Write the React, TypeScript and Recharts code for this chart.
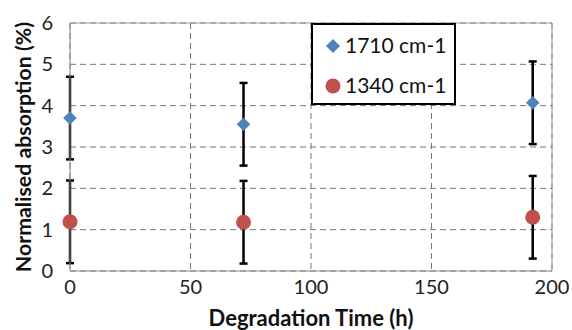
import React from 'react';
import {
  ScatterChart, Scatter, XAxis, YAxis, CartesianGrid, ErrorBar, ReferenceLine, Label,
} from 'recharts';

const times = [0, 72, 192];
const abs1710 = [3.7, 3.55, 4.07];
const err1710 = [1.0, 1.0, 1.0];
const abs1340 = [1.19, 1.18, 1.3];
const err1340 = [1.0, 1.0, 1.0];
const xTicks = [0, 50, 100, 150, 200];
const yTicks = [0, 1, 2, 3, 4, 5, 6];
const seriesNames = ['1710 cm-1', '1340 cm-1'];

const BLUE = '#4F81BD';
const RED = '#C0504D';
const FONT = 'Lato, "Open Sans", sans-serif';

const data1710 = times.map((t, i) => ({ x: t, y: abs1710[i], err: err1710[i] }));
const data1340 = times.map((t, i) => ({ x: t, y: abs1340[i], err: err1340[i] }));

const Diamond = (props: any) => {
  const { cx, cy } = props;
  const r = 6.8;
  return <polygon points={`${cx},${cy - r} ${cx + r},${cy} ${cx},${cy + r} ${cx - r},${cy}`} fill={BLUE} />;
};
const Dot = (props: any) => {
  const { cx, cy } = props;
  return <circle cx={cx} cy={cy} r={7.5} fill={RED} />;
};

const LegendBox = () => (
  <div
    style={{
      position: 'absolute', left: 311, top: 23,
      width: 145, height: 82, boxSizing: 'border-box', border: '2px solid #000', background: '#fff',
      fontFamily: FONT, fontSize: 21, color: '#111',
    }}
  >
    <svg width={16} height={16} style={{ position: 'absolute', left: 12, top: 13 }}>
      <polygon points="8,1 15,8 8,15 1,8" fill={BLUE} />
    </svg>
    <div style={{ position: 'absolute', left: 32, top: 7, lineHeight: '26px' }}>{seriesNames[0]}</div>
    <svg width={16} height={16} style={{ position: 'absolute', left: 12, top: 53 }}>
      <circle cx={8} cy={8} r={7.5} fill={RED} />
    </svg>
    <div style={{ position: 'absolute', left: 32, top: 47, lineHeight: '26px' }}>{seriesNames[1]}</div>
  </div>
);

export default function App() {
  return (
    <div style={{ position: 'absolute', left: 0, top: 0, width: 572, height: 330, background: '#fff' }}>
      <ScatterChart width={572} height={330} margin={{ top: 23, right: 20, bottom: 0, left: 0 }}>
        <CartesianGrid stroke="#777" strokeDasharray="6 4" strokeWidth={1} />
        <XAxis
          type="number" dataKey="x" domain={[0, 200]} ticks={xTicks} height={59} interval={0}
          tickLine={false} axisLine={{ stroke: '#888', strokeWidth: 1 }}
          tick={{ fill: '#222', fontSize: 20, fontFamily: FONT }} tickMargin={3}
        >
          <Label value="Degradation Time (h)" position="insideBottom" offset={4}
            style={{ fontFamily: FONT, fontSize: 22, fontWeight: 700, fill: '#111' }} />
        </XAxis>
        <YAxis
          type="number" dataKey="y" domain={[0, 6]} ticks={yTicks} width={70} interval={0}
          tickLine={false} axisLine={{ stroke: '#888', strokeWidth: 1 }}
          tick={{ fill: '#222', fontSize: 20, fontFamily: FONT }} tickMargin={11}
        >
          <Label
            content={(p: any) => {
              const vb = p.viewBox || {};
              const cx = 23;
              const cy = vb.y + vb.height / 2;
              return (
                <text x={cx} y={cy} transform={`rotate(-90 ${cx} ${cy})`} textAnchor="middle"
                  dominantBaseline="central"
                  style={{ fontFamily: FONT, fontSize: 21.3, fontWeight: 700, fill: '#111' }}>
                  Normalised absorption (%)
                </text>
              );
            }}
          />
        </YAxis>
        <ReferenceLine y={6} stroke="#999" strokeWidth={1} />
        <ReferenceLine x={200} stroke="#999" strokeWidth={1} />
        <Scatter name={seriesNames[0]} data={data1710} shape={Diamond} isAnimationActive={false}>
          <ErrorBar dataKey="err" direction="y" width={4} stroke="#000" strokeWidth={2.5} />
        </Scatter>
        <Scatter name={seriesNames[1]} data={data1340} shape={Dot} isAnimationActive={false}>
          <ErrorBar dataKey="err" direction="y" width={4} stroke="#000" strokeWidth={2.5} />
        </Scatter>
      </ScatterChart>
      <LegendBox />
    </div>
  );
}
